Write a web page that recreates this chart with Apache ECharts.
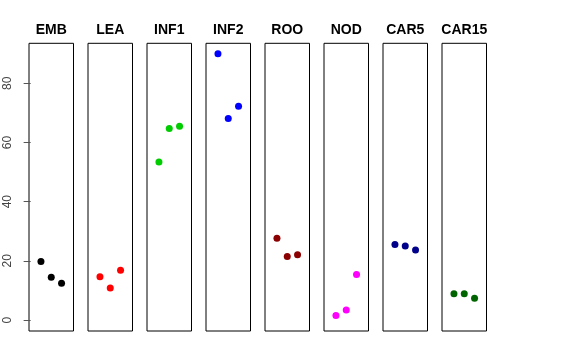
<!DOCTYPE html>
<html><head><meta charset="utf-8">
<script src="https://cdn.jsdelivr.net/npm/echarts@6/dist/echarts.min.js"></script>
<style>html,body{margin:0;padding:0;background:#fff}#c{width:576px;height:360px}</style>
</head><body><div id="c"></div>
<script>
const panels = ["EMB","LEA","INF1","INF2","ROO","NOD","CAR5","CAR15"];
const EMB  = [19.8, 14.5, 12.4];
const LEA  = [14.6, 10.8, 16.8];
const INF1 = [53.4, 64.7, 65.5];
const INF2 = [90.0, 68.1, 72.2];
const ROO  = [27.6, 21.5, 22.1];
const NOD  = [1.5, 3.4, 15.4];
const CAR5 = [25.5, 25.0, 23.7];
const CAR15 = [8.9, 8.9, 7.4];
const panelValues = [EMB, LEA, INF1, INF2, ROO, NOD, CAR5, CAR15];
const colors = ["#000000","#FF0000","#00CD00","#0000FF","#8B0000","#FF00FF","#00008B","#006400"];
const yTicks = [0, 20, 40, 60, 80];

const gLeft0 = 29, gStep = 59, gW = 44.5, gTop = 43.3, gH = 287.7;
const grids = [], xAxes = [], yAxes = [], seriesList = [], titles = [];
panels.forEach((name, i) => {
  const L = gLeft0 + i * gStep;
  grids.push({left: L, top: gTop, width: gW, height: gH, show: true, borderColor: '#000', borderWidth: 1, backgroundColor: 'transparent'});
  xAxes.push({gridIndex: i, type: 'value', min: -0.16, max: 4.16, show: false});
  yAxes.push({gridIndex: i, type: 'value', min: -3.7, max: 93.5, show: i === 0,
    splitLine: {show: false}, axisLine: {show: false},
    axisTick: {show: true, length: 7, customValues: yTicks, lineStyle: {color: '#555'}},
    axisLabel: {show: true, customValues: yTicks, rotate: 90, margin: 15, color: '#444', fontSize: 12, fontFamily: 'Liberation Sans, Arial, sans-serif'}
  });
  seriesList.push({type: 'scatter', xAxisIndex: i, yAxisIndex: i, symbol: 'circle', symbolSize: 7,
    itemStyle: {color: colors[i], opacity: 1}, silent: true,
    data: panelValues[i].map((v, j) => [j + 1, v])});
  titles.push({text: name, left: L + gW / 2, top: 23, padding: 0, textAlign: 'center',
    textStyle: {fontSize: 14, fontWeight: 'bold', color: '#000', fontFamily: 'Liberation Sans, Arial, sans-serif'}});
});
const chart = echarts.init(document.getElementById('c'), null, {renderer: 'canvas'});
chart.setOption({animation: false, title: titles, grid: grids, xAxis: xAxes, yAxis: yAxes, series: seriesList});
</script></body></html>
